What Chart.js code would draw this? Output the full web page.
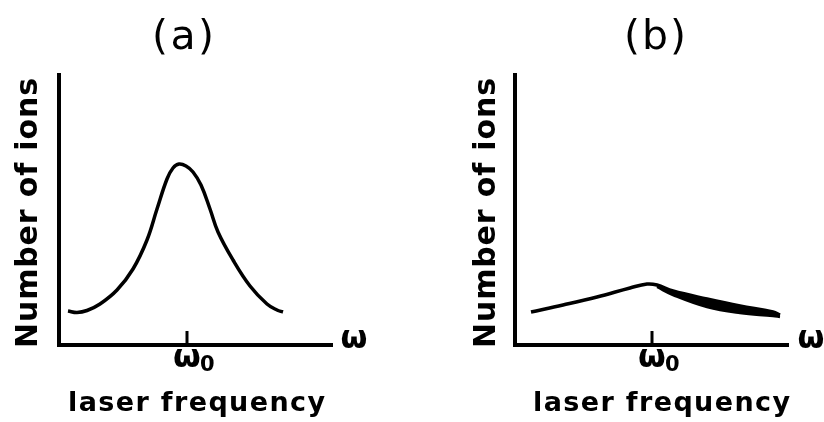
<!DOCTYPE html>
<html>
<head>
<meta charset="utf-8">
<script src="https://cdn.jsdelivr.net/npm/chart.js@4/dist/chart.umd.min.js"></script>
<style>
  html, body { margin: 0; padding: 0; background: #fff; }
  .wrap { position: relative; width: 824px; height: 422px; }
  .panel { position: absolute; top: 0; width: 412px; height: 422px; }
</style>
</head>
<body>
<div class="wrap">
  <div class="panel" style="left:0"><canvas id="chartA" width="412" height="422"></canvas></div>
  <div class="panel" style="left:412px"><canvas id="chartB" width="412" height="422"></canvas></div>
</div>
<script>
// ===== data (x: detuning from ω0, y: ion count, arbitrary units) =====
const narrowX = [-11.9, -11.0, -10.0, -8.7, -7.0, -5.4, -4.0, -3.0, -2.0, -1.4, -0.8, -0.1, 0.6, 1.4, 2.3, 3.1, 4.6, 6.3, 8.0, 9.0, 9.6];
const narrowY = [3.4, 3.25, 3.45, 4.1, 5.5, 7.6, 10.5, 13.6, 16.6, 17.7, 18.1, 17.9, 17.3, 16.0, 13.6, 11.3, 8.5, 5.9, 4.1, 3.5, 3.3];
const broadX = [-12.1, -8.9, -5.5, -2.2, -0.5, 0.5, 2.1, 5.5, 8.8, 12.1, 12.8];
const broadY = [3.3, 4.0, 4.8, 5.7, 6.1, 6.0, 5.4, 4.6, 3.9, 3.3, 3.0];
// lower edge of the smeared right wing in (b)
const broadLowX = [0.5, 2.1, 5.5, 8.8, 12.1, 12.8];
const broadLowY = [5.8, 5.0, 3.8, 3.2, 2.9, 2.8];
const panelTitles = ['(a)', '(b)'];
const yTitle = 'Number of ions';
const xTitle = 'laser frequency';
const axisSymbol = 'ω';
const centerSymbol = ['ω', '0'];

const FONT = '"DejaVu Sans", sans-serif';
const pts = (xs, ys) => xs.map((x, i) => ({ x, y: ys[i] }));

// draw text from x0 to x1: widen with letter spacing, narrow by squeezing
function spanText(ctx, text, x0, x1, y, font) {
  const width = x1 - x0;
  ctx.save();
  ctx.font = font;
  ctx.letterSpacing = '0px';
  ctx.textAlign = 'left';
  const w = ctx.measureText(text).width;
  if (w > width) {
    ctx.translate(x0, y);
    ctx.scale(width / w, 1);
    ctx.fillText(text, 0, 0);
  } else {
    ctx.letterSpacing = ((width - w) / (text.length - 1)) + 'px';
    ctx.fillText(text, x0, y);
  }
  ctx.restore();
}

const textPlugin = {
  id: 'panelText',
  afterDraw(chart, args, o) {
    const { ctx, chartArea: a, scales: { x } } = chart;
    const cx = x.getPixelForValue(0);
    ctx.save();
    ctx.fillStyle = '#000';
    ctx.strokeStyle = '#000';
    ctx.textBaseline = 'alphabetic';

    // ω0 tick on the axis
    ctx.lineWidth = 3;
    ctx.beginPath();
    ctx.moveTo(cx, a.bottom);
    ctx.lineTo(cx, a.bottom - 14);
    ctx.stroke();

    // panel title
    spanText(ctx, o.title, o.titleX - 31, o.titleX + 31, 49, '41px ' + FONT);

    // rotated y title, read bottom to top
    ctx.save();
    ctx.translate(o.yTitleX, 348);
    ctx.rotate(-Math.PI / 2);
    spanText(ctx, yTitle, 0, 270, 0, 'bold 30px ' + FONT);
    ctx.restore();

    // x title
    spanText(ctx, xTitle, cx - 119, cx + 138, 411, 'bold 27px ' + FONT);

    // ω0 under the tick
    ctx.textAlign = 'left';
    ctx.font = 'bold 32px ' + FONT;
    ctx.fillText(centerSymbol[0], cx - 14, 367);
    ctx.font = 'bold 21px ' + FONT;
    ctx.fillText(centerSymbol[1], cx + 13, 371);

    // ω at the end of the axis
    ctx.font = 'bold 31px ' + FONT;
    ctx.textAlign = 'center';
    ctx.fillText(axisSymbol, o.omegaX, 348);
    ctx.restore();
  }
};

function makePanel(id, datasets, xMin, xMax, padL, padR, text) {
  return new Chart(document.getElementById(id), {
    type: 'line',
    data: { datasets },
    options: {
      responsive: false,
      animation: false,
      layout: { padding: { left: padL, right: padR, top: 75, bottom: 77 } },
      elements: { point: { radius: 0 } },
      plugins: { legend: { display: false }, tooltip: { enabled: false }, panelText: text },
      scales: {
        x: {
          type: 'linear', min: xMin, max: xMax,
          grid: { display: false, drawTicks: false },
          ticks: { display: false },
          border: { display: true, color: '#000', width: 4 }
        },
        y: {
          min: 0, max: 27,
          grid: { display: false, drawTicks: false },
          ticks: { display: false },
          border: { display: true, color: '#000', width: 4 }
        }
      }
    },
    plugins: [textPlugin]
  });
}

makePanel('chartA', [
  { data: pts(narrowX, narrowY), borderColor: '#000', borderWidth: 3.5, tension: 0.4, fill: false, clip: false }
], -12.8, 14.5, 59, 80, { title: panelTitles[0], titleX: 183, yTitleX: 37, omegaX: 354 });

makePanel('chartB', [
  { data: pts(broadX, broadY), borderColor: '#000', borderWidth: 3.5, tension: 0.4, fill: false, clip: false },
  { data: pts(broadLowX, broadLowY), borderColor: '#000', backgroundColor: '#000', borderWidth: 2.5, tension: 0.4, fill: '-1', clip: false }
], -13.7, 13.6, 103, 36, { title: panelTitles[1], titleX: 243, yTitleX: 83, omegaX: 399 });
</script>
</body>
</html>
